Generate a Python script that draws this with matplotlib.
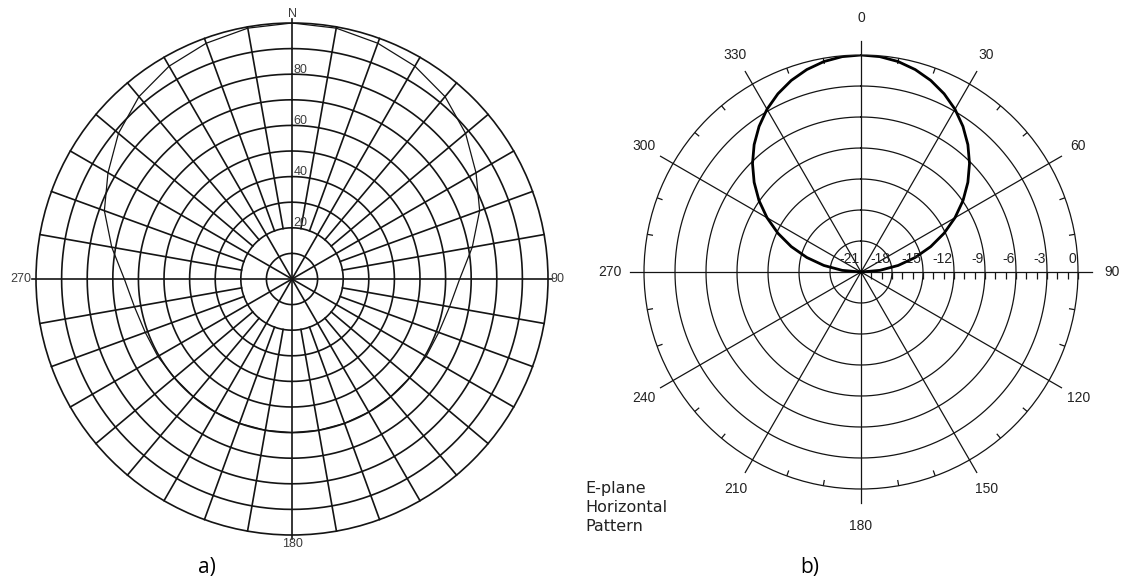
import numpy as np
import matplotlib
matplotlib.use("Agg")
import matplotlib.pyplot as plt

plt.rcParams["font.family"] = ["Liberation Sans", "DejaVu Sans"]

# a) polar grid with a broad pattern (linear radius 0..100)
a_angles = np.arange(0, 360, 10)
a_radius = [100, 99.5, 98, 96, 93, 88.5, 83, 78, 71.5, 65.5, 62.5, 61,
            60.5, 60, 60, 60, 60, 60, 60, 60, 60, 60, 60, 60,
            60.5, 61, 62.5, 65.5, 71.5, 78, 83, 88.5, 93, 96, 98, 99.5]
a_rings = [10, 20, 30, 40, 50, 60, 70, 80, 90]
a_ring_labels = [20, 40, 60, 80]
a_compass = {0: "N", 90: "90", 180: "180", 270: "270"}

# b) E-plane pattern in dB (-21 at centre, 0 at outer ring)
b_angles = np.arange(-90, 95, 5)
b_gain = [-21, -19.17, -17.35, -15.57, -13.82, -12.13, -10.5, -8.95, -7.5,
          -6.15, -4.91, -3.8, -2.81, -1.97, -1.27, -0.72, -0.32, -0.08, 0,
          -0.08, -0.32, -0.72, -1.27, -1.97, -2.81, -3.8, -4.91, -6.15, -7.5,
          -8.95, -10.5, -12.13, -13.82, -15.57, -17.35, -19.17, -21]
b_rings = [-18, -15, -12, -9, -6, -3]
b_scale = [-21, -18, -15, -12, -9, -6, -3, 0]
b_minor = list(range(-20, 1))
b_spokes = [0, 30, 60, 90, 120, 150, 180, 210, 240, 270, 300, 330]

ink = "#141414"
grey = "#3c3c3c"
full = np.linspace(0, 2 * np.pi, 721)

fig = plt.figure(figsize=(11.22, 5.87), dpi=100)

# ---- a) ----
ax = fig.add_axes([0.03209, 0.08859, 0.45633, 0.87223], projection="polar")
ax.set_theta_zero_location("N")
ax.set_theta_direction(-1)
ax.set_ylim(0, 100)
ax.set_xticks([])
ax.set_yticks([])
ax.grid(False)
ax.spines["polar"].set(linewidth=1.2, color=ink)

for r in a_rings:
    ax.plot(full, np.full_like(full, r), color=ink, lw=1.2)

for deg in range(0, 360, 10):
    start = 0 if deg % 30 == 0 else 20
    end = 101.5 if deg % 90 == 0 else 100
    ax.plot([np.deg2rad(deg)] * 2, [start, end], color=ink, lw=1.2,
            clip_on=False)

ax.plot(np.deg2rad(np.append(a_angles, 360)), a_radius + a_radius[:1],
        color=ink, lw=0.9)

for v in a_ring_labels:
    ax.annotate(str(v), xy=(0, v), xytext=(1, 1), textcoords="offset points",
                ha="left", va="baseline", fontsize=9, color=grey)

ax.text(0, 103.5, a_compass[0], ha="center", va="center", fontsize=9,
        color=grey)
ax.text(np.pi, 103.5, a_compass[180], ha="center", va="center", fontsize=9,
        color=grey)
ax.text(np.pi / 2, 101, a_compass[90], ha="left", va="center", fontsize=9,
        color=grey)
ax.text(3 * np.pi / 2, 102, a_compass[270], ha="right", va="center",
        fontsize=9, color=grey)

# ---- b) ----
bx = fig.add_axes([0.57398, 0.16695, 0.38681, 0.73935], projection="polar")
bx.set_theta_zero_location("N")
bx.set_theta_direction(-1)
bx.set_ylim(-21, 0)
bx.set_xticks([])
bx.set_yticks([])
bx.grid(False)
bx.spines["polar"].set(linewidth=0.9, color=ink)

for r in b_rings:
    bx.plot(full, np.full_like(full, r), color=ink, lw=0.9)

for deg in b_spokes:
    bx.plot([np.deg2rad(deg)] * 2, [-21, 1.4], color=ink, lw=0.9,
            clip_on=False)
    lab_r = 3.6 if deg in (0, 180) else 3.3
    bx.text(np.deg2rad(deg), lab_r, str(deg), ha="center", va="center",
            fontsize=10, color="#222222")

# short ticks on the outer ring every 10 degrees
for deg in range(0, 360, 10):
    if deg % 30:
        bx.plot([np.deg2rad(deg)] * 2, [0, -0.5], color=ink, lw=0.9)

# 1 dB ticks hanging under the 90 degree axis
bx.plot(np.full(len(b_minor), np.pi / 2), b_minor, ls="none", marker=3,
        ms=5, mew=0.9, color=ink, clip_on=False)

for v in b_scale:
    bx.annotate(str(v), xy=(np.pi / 2, v), xytext=(-1, 4),
                textcoords="offset points", ha="right", va="bottom",
                fontsize=10, color="#222222")

bx.plot(np.deg2rad(b_angles), b_gain, color="black", lw=2.0)

fig.text(585 / 1122, 1 - 481 / 587, "E-plane\nHorizontal\nPattern",
         ha="left", va="top", fontsize=11.5, linespacing=1.35,
         family=["DejaVu Sans"], color="#222222")

fig.text(207 / 1122, 1 - 568 / 587, "a)", ha="center", va="center",
         fontsize=15, family=["Open Sans", "DejaVu Sans"])
fig.text(810 / 1122, 1 - 568 / 587, "b)", ha="center", va="center",
         fontsize=15, family=["Open Sans", "DejaVu Sans"])

fig.savefig("out.png", dpi=100, facecolor="white")
